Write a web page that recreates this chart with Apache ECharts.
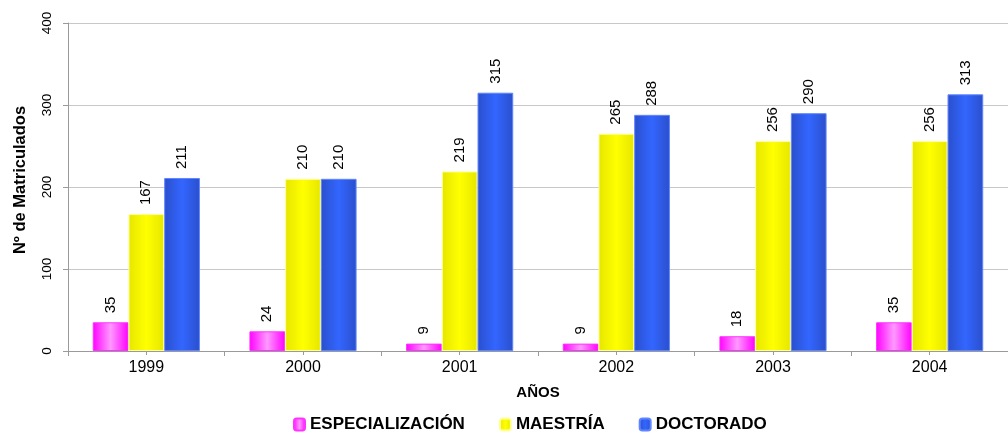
<!DOCTYPE html>
<html><head><meta charset="utf-8">
<script src="https://cdn.jsdelivr.net/npm/echarts@6/dist/echarts.min.js"></script>
<style>html,body{margin:0;padding:0;background:#fff}#c{width:1008px;height:438px}</style>
</head><body><div id="c"></div>
<script>
var categories = ['1999','2000','2001','2002','2003','2004'];
var especializacion = [35,24,9,9,18,35];
var maestria = [167,210,219,265,256,256];
var doctorado = [211,210,315,288,290,313];
var yTicks = [0,100,200,300,400];

var FONT = "'Liberation Sans', Arial, sans-serif";
function grad(edge, mid){
  return {type:'linear',x:0,y:0,x2:1,y2:0,colorStops:[
    {offset:0,color:edge},{offset:0.5,color:mid},{offset:1,color:edge}]};
}
var styles = [
  {name:'ESPECIALIZACIÓN', data:especializacion, color:grad('#ff00ff','#ff99ff'), border:'#ff33ff'},
  {name:'MAESTRÍA', data:maestria, color:grad('#e6e600','#ffff00'), border:'#ffff99'},
  {name:'DOCTORADO', data:doctorado, color:grad('#2a4fcc','#3366ff'), border:'#5f86ff'}
];
var chart = echarts.init(document.getElementById('c'));
chart.setOption({
  animation:false,
  textStyle:{fontFamily:FONT},
  grid:{left:68, top:23, bottom:87, width:950, containLabel:false},
  legend:{
    bottom:0, left:288, itemGap:34, itemWidth:11, itemHeight:12,
    textStyle:{fontFamily:FONT, fontSize:17, fontWeight:'bold', color:'#000'},
    data:styles.map(function(s){return s.name;})
  },
  xAxis:[{
    type:'category', data:categories, boundaryGap:true,
    name:'AÑOS', nameLocation:'middle', nameGap:34,
    nameTextStyle:{fontFamily:FONT, fontSize:15, fontWeight:'bold', color:'#000'},
    axisLine:{lineStyle:{color:'#9a9a9a', width:1}},
    axisTick:{show:true, length:5, lineStyle:{color:'#9a9a9a'}},
    axisLabel:{fontFamily:FONT, fontSize:16, color:'#000', margin:9}
  },{
    type:'category', data:categories, position:'bottom', boundaryGap:true,
    axisLine:{show:false}, axisLabel:{show:false},
    axisTick:{show:true, alignWithLabel:true, length:4, lineStyle:{color:'#9a9a9a'}}
  }],
  yAxis:{
    type:'value', min:0, max:400, interval:100,
    name:'Nº de Matriculados', nameLocation:'middle', nameRotate:90, nameGap:39,
    nameTextStyle:{fontFamily:FONT, fontSize:16.5, fontWeight:'bold', color:'#000', padding:[0,0,0,14]},
    axisLine:{show:true, lineStyle:{color:'#9a9a9a'}},
    axisTick:{show:true, length:5, lineStyle:{color:'#9a9a9a'}},
    splitLine:{lineStyle:{color:'#c8c8c8'}},
    axisLabel:{fontFamily:FONT, fontSize:13.5, color:'#000', rotate:90, margin:14,
      formatter:function(v){return yTicks.indexOf(v)>=0 ? String(v) : '';}}
  },
  series: styles.map(function(s){
    return {
      name:s.name, type:'bar', data:s.data, barGap:'0%', barCategoryGap:'31.6%',
      itemStyle:{color:s.color, borderColor:s.border, borderWidth:1},
      label:{show:true, position:'top', rotate:90, align:'left', verticalAlign:'middle', distance:9,
        fontFamily:FONT, fontSize:15, color:'#000'}
    };
  })
});
</script></body></html>
